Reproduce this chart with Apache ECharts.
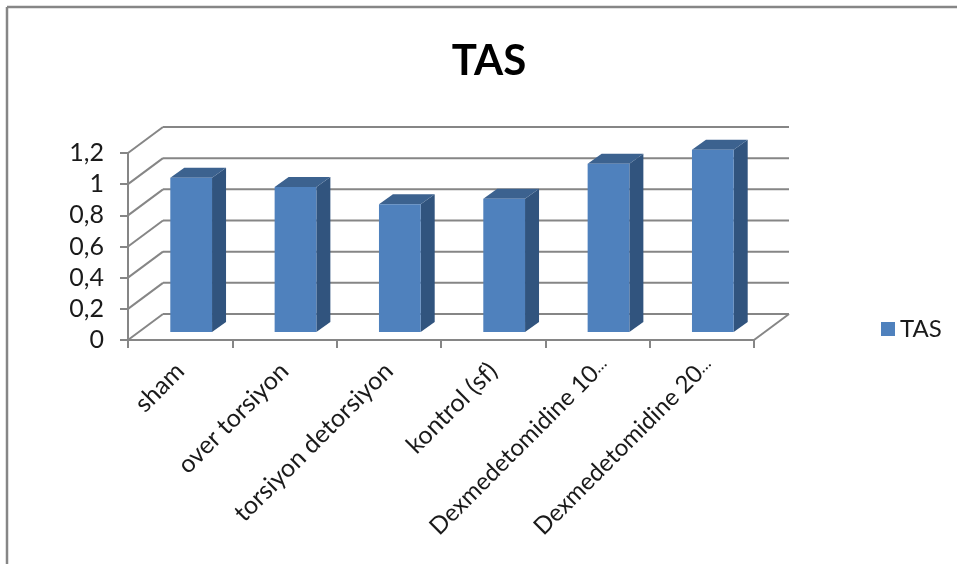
<!DOCTYPE html>
<html>
<head>
<meta charset="utf-8">
<script src="https://cdn.jsdelivr.net/npm/echarts@6/dist/echarts.min.js"></script>
<style>
html,body{margin:0;padding:0;background:#fff}
#chart{width:957px;height:564px}
</style>
</head>
<body>
<div id="chart"></div>
<script>
// Group names and mean TAS per group
const categories = ['sham', 'over torsiyon', 'torsiyon detorsiyon', 'kontrol (sf)', 'Dexmedetomidine 10…', 'Dexmedetomidine 20…'];
const values = [0.99, 0.93, 0.82, 0.855, 1.08, 1.17];
const yTicks = [0, 0.2, 0.4, 0.6, 0.8, 1, 1.2];

const FONT = 'Lato, "Open Sans", sans-serif';
const GRID_COLOR = '#868686';
const FRONT = '#4f81bd', SIDE = '#31547e', TOP = '#3c628f';
// Perspective offsets of the 3D box, in pixels
const WALL_DX = 35, WALL_DY = -26;
const BAR_SHIFT_X = 11, BAR_SHIFT_Y = -8, BAR_DX = 14, BAR_DY = -10;

const chart = echarts.init(document.getElementById('chart'), null, {renderer: 'canvas'});

// Back wall gridlines and the matching diagonals on the left wall
function renderWalls(params, api) {
  const tick = api.value(1);
  const y = api.coord([0, tick])[1];
  const left = params.coordSys.x, right = left + params.coordSys.width;
  const style = {stroke: GRID_COLOR, lineWidth: 2, fill: null};
  const parts = [
    {type: 'line', shape: {x1: left, y1: y, x2: left + WALL_DX, y2: y + WALL_DY}, style},
    {type: 'line', shape: {x1: left + WALL_DX, y1: y + WALL_DY, x2: right + WALL_DX, y2: y + WALL_DY}, style}
  ];
  if (tick === 0) {
    parts.push({type: 'line', shape: {x1: right, y1: y, x2: right + WALL_DX, y2: y + WALL_DY}, style});
  }
  return {type: 'group', children: parts};
}

// One box: front face, right side and top
function renderBar(params, api) {
  const i = api.value(0);
  const top = api.coord([i, api.value(1)]);
  const base = api.coord([i, 0]);
  const w = api.size([1, 0])[0] * 0.4;
  const x0 = top[0] - w / 2 + BAR_SHIFT_X, x1 = x0 + w;
  const y0 = top[1] + BAR_SHIFT_Y, y1 = base[1] + BAR_SHIFT_Y;
  return {
    type: 'group',
    children: [
      {type: 'polygon', shape: {points: [[x1, y0], [x1 + BAR_DX, y0 + BAR_DY], [x1 + BAR_DX, y1 + BAR_DY], [x1, y1]]}, style: {fill: SIDE}},
      {type: 'polygon', shape: {points: [[x0, y0], [x0 + BAR_DX, y0 + BAR_DY], [x1 + BAR_DX, y0 + BAR_DY], [x1, y0]]}, style: {fill: TOP}},
      {type: 'rect', shape: {x: x0, y: y0, width: w, height: y1 - y0}, style: {fill: FRONT}}
    ]
  };
}

chart.setOption({
  animation: false,
  color: [FRONT],
  title: {
    text: 'TAS', left: 484, top: 35, textAlign: 'center',
    textStyle: {fontFamily: FONT, fontSize: 42, fontWeight: 'bold', color: '#000'}
  },
  legend: {
    data: [{name: 'TAS', icon: 'rect'}],
    left: 881, top: 317, padding: 0, itemWidth: 14, itemHeight: 14, itemGap: 6,
    textStyle: {fontFamily: FONT, fontSize: 24, color: '#1a1a1a'}
  },
  grid: {left: 128, right: 203, top: 153, bottom: 224},
  xAxis: {
    type: 'category',
    data: categories,
    axisLine: {lineStyle: {color: GRID_COLOR, width: 2}},
    axisTick: {show: true, length: 8, lineStyle: {color: GRID_COLOR, width: 2}},
    axisLabel: {
      interval: 0, rotate: 45, margin: 27,
      fontFamily: FONT, fontSize: 25, color: '#1a1a1a',
      // the long names are set a little tighter, with a small trailing ellipsis
      formatter: v => v.includes('…') ? '{d|' + v.replace('…', '') + '}{e|…}' : v,
      rich: {
        d: {fontFamily: FONT, fontSize: 24, color: '#1a1a1a'},
        e: {fontFamily: FONT, fontSize: 17, color: '#1a1a1a', padding: [0, -9, 0, 0]}
      }
    }
  },
  yAxis: {
    type: 'value', min: 0, max: 1.2, interval: 0.2,
    splitLine: {show: false},
    axisLine: {show: true, lineStyle: {color: GRID_COLOR, width: 2}},
    axisTick: {show: true, length: 8, lineStyle: {color: GRID_COLOR, width: 2}},
    axisLabel: {
      margin: 24, fontFamily: FONT, fontSize: 25, color: '#1a1a1a', padding: [10, 0, 0, 0],
      formatter: v => String(v).replace('.', ',')
    }
  },
  series: [
    {
      name: 'walls', type: 'custom', z: 1, silent: true, clip: false,
      coordinateSystem: 'cartesian2d',
      data: yTicks.map(t => [0, t]),
      renderItem: renderWalls
    },
    {
      name: 'TAS', type: 'custom', z: 3, clip: false,
      coordinateSystem: 'cartesian2d',
      itemStyle: {color: FRONT},
      data: values.map((v, i) => [i, v]),
      renderItem: renderBar
    }
  ],
  graphic: [
    {type: 'line', silent: true, shape: {x1: 7, y1: 7, x2: 957, y2: 7}, style: {stroke: GRID_COLOR, lineWidth: 2.5}},
    {type: 'line', silent: true, shape: {x1: 7, y1: 7, x2: 7, y2: 564}, style: {stroke: GRID_COLOR, lineWidth: 2.5}}
  ]
});
</script>
</body>
</html>
